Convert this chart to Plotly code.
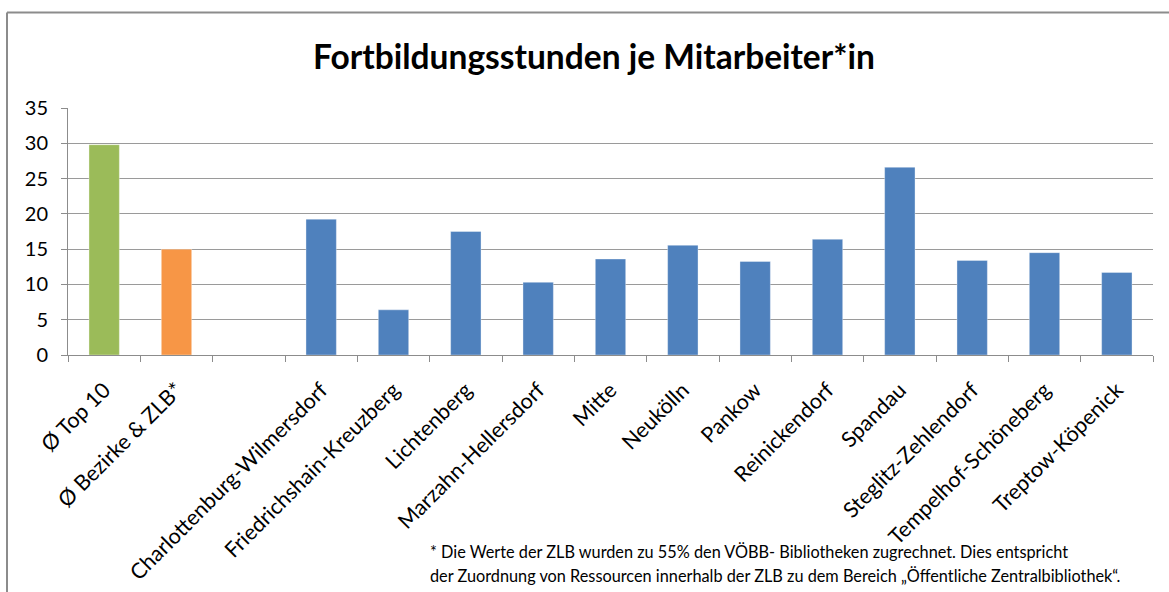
import plotly.graph_objects as go

categories = ["Ø Top 10", "Ø Bezirke & ZLB*", " ", "Charlottenburg-Wilmersdorf",
              "Friedrichshain-Kreuzberg", "Lichtenberg", "Marzahn-Hellersdorf", "Mitte",
              "Neukölln", "Pankow", "Reinickendorf", "Spandau", "Steglitz-Zehlendorf",
              "Tempelhof-Schöneberg", "Treptow-Köpenick"]
values = [29.8, 15.0, None, 19.25, 6.4, 17.5, 10.3, 13.6, 15.55, 13.25, 16.4, 26.6, 13.4, 14.5, 11.7]
colors = ["#9BBB59", "#F79646", "#4F81BD"] + ["#4F81BD"] * 12
y_ticks = [0, 5, 10, 15, 20, 25, 30, 35]

title_text = "Fortbildungsstunden je Mitarbeiter*in"
footnote_lines = [
    "* Die Werte der ZLB wurden zu 55% den VÖBB- Bibliotheken zugrechnet. Dies entspricht",
    "der Zuordnung von Ressourcen innerhalb der ZLB zu dem Bereich „Öffentliche Zentralbibliothek“.",
]

FONT = "Lato"
W, H = 1169, 592
L, R, T, B = 68, 16, 108, 237
pw, ph = W - L - R, H - T - B

def px_x(x):
    return (x - L) / pw

def px_y(y):
    return (H - B - y) / ph

fig = go.Figure()
fig.add_trace(go.Bar(
    x=categories, y=values,
    marker=dict(color=colors, line=dict(color="rgba(255,255,255,0.35)", width=1)),
    showlegend=False,
))

fig.update_layout(
    width=W, height=H,
    margin=dict(l=L, r=R, t=T, b=B, autoexpand=False),
    paper_bgcolor="white", plot_bgcolor="white",
    bargap=0.58,
    font=dict(family=FONT, color="#000000"),
    title=dict(text="<b>" + title_text + "</b>", x=594 / W, xanchor="center",
               y=1 - 57 / H, yanchor="middle",
               font=dict(size=33.5, family=FONT, color="#000000")),
    xaxis=dict(
        type="category", categoryorder="array", categoryarray=categories,
        tickangle=-45, tickfont=dict(size=21.5, family=FONT, color="#000000"),
        automargin=False, ticklabelstandoff=13,
        showline=True, linecolor="#8C8C8C", linewidth=1,
        ticks="outside", tickson="boundaries", ticklen=6, tickcolor="#8C8C8C",
        showgrid=False, range=[-0.5, len(categories) - 0.5],
    ),
    yaxis=dict(
        range=[0, 35], tickvals=y_ticks, tickfont=dict(size=20, family=FONT, color="#000000"),
        automargin=False, ticklabelstandoff=9,
        showgrid=True, gridcolor="#9A9A9A", gridwidth=1,
        showline=True, linecolor="#8C8C8C", linewidth=1,
        ticks="outside", ticklen=6, tickcolor="#8C8C8C",
        zeroline=False, fixedrange=True,
    ),
)

for i, line in enumerate(footnote_lines):
    fig.add_annotation(
        text=line, xref="paper", yref="paper",
        x=px_x(428), y=px_y(551 + 24 * i), xanchor="left", yanchor="middle",
        showarrow=False, font=dict(size=16.3, family=FONT, color="#000000"),
    )

# outer chart border (left and top edges visible)
fig.add_shape(type="line", xref="paper", yref="paper",
              x0=px_x(7), x1=px_x(7), y0=px_y(12.5), y1=px_y(H + 5),
              line=dict(color="#8C8C8C", width=2))
fig.add_shape(type="line", xref="paper", yref="paper",
              x0=px_x(7), x1=px_x(W + 5), y0=px_y(12.5), y1=px_y(12.5),
              line=dict(color="#8C8C8C", width=2))

fig.write_html("out.html", config={"displayModeBar": False},
               post_script="document.body.style.margin='0';document.body.style.overflow='hidden';")
